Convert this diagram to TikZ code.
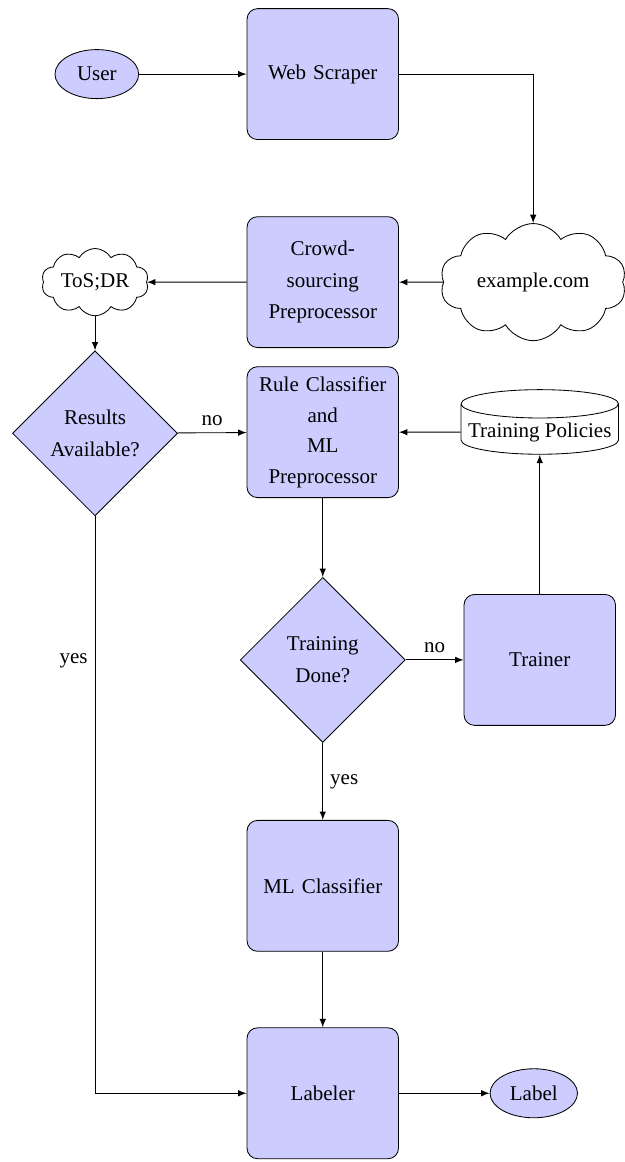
\documentclass[tikz,border=0pt]{standalone}
\usepackage{fontspec}
\setmainfont{Liberation Serif}
\usetikzlibrary{shapes.geometric,shapes.symbols}
\tikzset{
  block/.style={rectangle, draw, fill=blue!20, rounded corners=5pt, minimum width=2.49cm, minimum height=2.19cm, text width=2.3cm, align=center, font=\fontsize{10}{15}\selectfont},
  decision/.style={diamond, draw, fill=blue!20, aspect=1, inner sep=0pt, minimum size=2.76cm, align=center, font=\fontsize{10}{15}\selectfont},
  terminal/.style={ellipse, draw, fill=blue!20, minimum width=1.4cm, minimum height=0.82cm},
  webcloud/.style={cloud, draw, cloud puffs=10, cloud puff arc=120, aspect=2},
  store/.style={cylinder, draw, shape border rotate=90, aspect=0.18, inner ysep=2pt, minimum width=2.63cm, minimum height=0.92cm}
}
\begin{document}
\begin{tikzpicture}[>={latex}]
		\useasboundingbox (0,0) rectangle (10.44,-19.44);
		\node[terminal] (user) at (1.62, -1.24) {User};
		\node[block] (scraper) at (5.40, -1.24) {Web Scraper};
		\node[webcloud, minimum width=2.53cm, minimum height=1.96cm] (example) at (8.92, -4.72) {example.com};
		\node[block] (crowd) at (5.40, -4.72) {Crowd-\\sourcing\\Preprocessor};
		\node[webcloud, minimum width=1.5cm, minimum height=0.85cm, inner sep=1pt] (tosdr) at (1.59, -4.72) {ToS;DR};
		\node[decision] (results) at (1.59, -7.25) {Results\\Available?};
		\node[block, font=\fontsize{10}{14.5}\selectfont] (rule) at (5.40, -7.23) {Rule Classifier\\and\\ML\\Preprocessor};
		\node[store] (policies) at (9.03, -7.23) {Training Policies};
		\node[decision] (done) at (5.40, -11.04) {Training\\Done?};
		\node[block] (trainer) at (9.03, -11.04) {Trainer};
		\node[block] (mlclass) at (5.40, -14.82) {ML Classifier};
		\node[block] (labeler) at (5.40, -18.29) {Labeler};
		\node[terminal] (label) at (8.93, -18.29) {Label};
		% connectors
		\draw[->] (user) -- (scraper);
		\draw[->] (scraper) -| (example);
		\draw[->] (example) -- (crowd);
		\draw[->] (crowd) -- (tosdr);
		\draw[->] (tosdr) -- (results);
		\draw[->] (results) -- node[above] {no} (rule);
		\draw[->] (policies) -- (rule);
		\draw[->] (rule) -- (done);
		\draw[->] (done) -- node[above] {no} (trainer);
		\draw[->] (trainer) -- (policies);
		\draw[->] (done) -- node[right] {yes} (mlclass);
		\draw[->] (results) |- node[pos=0.125, left] {yes} (labeler);
		\draw[->] (mlclass) -- (labeler);
		\draw[->] (labeler) -- (label);
	\end{tikzpicture}
\end{document}
